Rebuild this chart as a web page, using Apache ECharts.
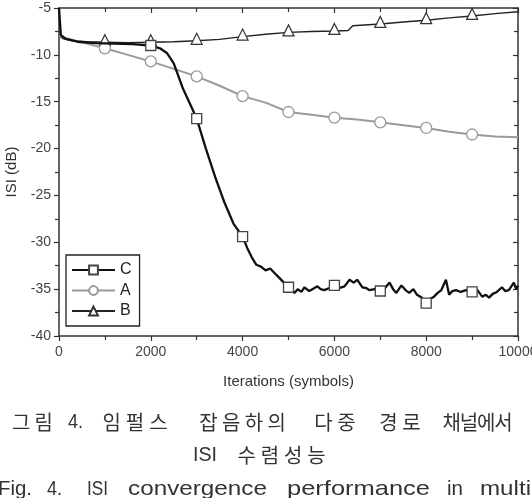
<!DOCTYPE html>
<html>
<head>
<meta charset="utf-8">
<script src="https://cdn.jsdelivr.net/npm/echarts@6/dist/echarts.min.js"></script>
<style>
  html, body { margin: 0; padding: 0; background: #fff; }
  #chart { width: 532px; height: 498px; }
</style>
</head>
<body>
<div id="chart"></div>
<script>
// iterations (symbols) vs ISI (dB)
const cIter = [0, 40, 150, 400, 800, 1200, 1600, 2000, 2200, 2350, 2500, 2700, 2850, 3000, 3200, 3400, 3600, 3800, 4000,
  4100, 4200, 4300, 4400, 4500, 4600, 4700, 4800, 4900, 5000, 5130, 5200, 5280, 5350, 5450, 5520, 5630, 5700, 5780, 5880,
  6000, 6100, 6220, 6330, 6420, 6500, 6610, 6700, 6760, 6880, 7000, 7100, 7200, 7280, 7350, 7460, 7550, 7630, 7720, 7800,
  7900, 8000, 8100, 8170, 8250, 8330, 8430, 8500, 8570, 8650, 8750, 8870, 9000, 9100, 9220, 9300, 9370, 9450, 9540, 9650,
  9720, 9800, 9910, 9960, 10000]
const cIsi = [-5.0, -7.9, -8.3, -8.6, -8.75, -8.8, -8.85, -9.0, -9.3, -9.8, -10.9, -13.6, -15.2, -16.8, -20.0, -23.0, -25.7, -28.0, -29.4,
  -30.6, -31.6, -32.4, -32.6, -33.0, -32.8, -33.3, -33.8, -34.3, -34.8, -35.4, -35.0, -35.3, -34.8, -35.2, -35.0, -34.7, -35.0, -35.1, -34.9,
  -34.6, -34.9, -34.7, -34.0, -34.3, -34.0, -34.8, -34.9, -35.1, -35.0, -35.2, -34.9, -34.3, -35.0, -35.4, -34.6, -35.1, -35.4, -35.0, -35.6,
  -35.9, -36.5, -36.0, -35.8, -35.4, -35.1, -34.0, -35.6, -35.2, -35.1, -35.3, -35.1, -35.3, -35.0, -35.8, -35.6, -35.9, -35.5, -35.3, -34.8,
  -35.2, -35.1, -34.3, -35.0, -34.6]

const aIter = [0, 300, 600, 1000, 1500, 2000, 2500, 3000, 3500, 4000, 4500, 5000, 5500, 6000, 6500, 7000, 7500, 8000, 8500, 9000, 9500, 10000]
const aIsi = [-8.0, -8.4, -8.8, -9.3, -10.0, -10.7, -11.5, -12.3, -13.3, -14.4, -15.1, -16.1, -16.4, -16.7, -16.9, -17.2, -17.5, -17.8, -18.2, -18.5, -18.7, -18.8]

const bIter = [0, 100, 300, 600, 1000, 1500, 2000, 2500, 3000, 3500, 4000, 4500, 5000, 5500, 6000, 6300, 6400, 7000, 7500, 8000, 8500, 9000, 9500, 10000]
const bIsi = [-8.0, -8.3, -8.5, -8.6, -8.65, -8.7, -8.65, -8.6, -8.5, -8.35, -8.05, -7.8, -7.6, -7.5, -7.45, -7.4, -6.9, -6.7, -6.5, -6.3, -6.05, -5.85, -5.6, -5.4]

// markers every 1000 symbols
const markerFirst = { C: 2000, A: 1000, B: 1000 }
const markerLast = 9000

const captionKo1 = [['그림', 10, 55], ['4.', 68, 83], ['임펄스', 100, 170], ['잡음하의', 197, 288], ['다중', 312, 358], ['경로', 377, 423], ['채널에서', 443, 512]]
const captionKo2 = [['ISI', 193, 217], ['수렴성능', 235, 328]]
const captionEn = [['Fig.', -2, 32], ['4.', 47, 62], ['ISI', 87, 108], ['convergence', 128, 267], ['performance', 287, 430], ['in', 447, 463], ['multipath', 480, 578]]

function points(iters, vals, symbol, first) {
  return iters.map((x, i) => ({
    value: [x, vals[i]],
    symbol: x % 1000 === 0 && x >= first && x <= markerLast ? symbol : 'none',
  }))
}

const measure = document.createElement('canvas').getContext('2d')
const koFont = '"Noto Sans CJK KR", sans-serif'
const enFont = '"Liberation Sans", Arial, sans-serif'

function captionLine(words, y, koSize, enSize) {
  const out = []
  words.forEach(([w, x0, x1]) => {
    const cjk = /[\uac00-\ud7a3]/.test(w)
    if (cjk) {
      const step = (x1 - x0) / w.length
      ;[...w].forEach((ch, i) => {
        out.push({
          type: 'text', x: x0 + step * (i + 0.5), y,
          style: { text: ch, fontSize: koSize, fontFamily: koFont, fill: '#333', align: 'center', verticalAlign: 'middle', textAlign: 'center', textVerticalAlign: 'middle' },
        })
      })
    } else {
      measure.font = enSize + 'px ' + enFont
      const wd = measure.measureText(w).width
      out.push({
        type: 'text', x: x0, y, scaleX: (x1 - x0) / wd,
        style: { text: w, fontSize: enSize, fontFamily: enFont, fill: '#333', align: 'left', verticalAlign: 'middle', textAlign: 'left', textVerticalAlign: 'middle' },
      })
    }
  })
  return out
}

const axisColor = '#333'
const lbl = { fontSize: 14, color: '#444', fontFamily: enFont, formatter: (v) => String(v) }

const chart = echarts.init(document.getElementById('chart'))
chart.setOption({
  animation: false,
  grid: { left: 59, right: 14, top: 8, bottom: 162, containLabel: false, outerBoundsMode: 'none' },
  xAxis: [
    {
      type: 'value', min: 0, max: 10000, interval: 2000, position: 'bottom',
      name: 'Iterations (symbols)', nameLocation: 'middle', nameGap: 38,
      nameTextStyle: { fontSize: 15, color: '#333', fontFamily: enFont },
      axisLine: { onZero: false, lineStyle: { color: axisColor, width: 1.5 } },
      axisTick: { length: 5, lineStyle: { color: axisColor, width: 1.2 } },
      minorTick: { show: true, splitNumber: 2, length: 4, lineStyle: { color: axisColor, width: 1.2 } },
      axisLabel: { ...lbl, margin: 9 },
      splitLine: { show: false },
    },
    {
      type: 'value', min: 0, max: 10000, interval: 2000, position: 'top',
      axisLine: { onZero: false, lineStyle: { color: axisColor, width: 1.5 } },
      axisTick: { inside: true, length: 5, lineStyle: { color: axisColor, width: 1.2 } },
      minorTick: { show: true, splitNumber: 2, length: 4, lineStyle: { color: axisColor, width: 1.2 } },
      axisLabel: { show: false },
      splitLine: { show: false },
    },
  ],
  yAxis: [
    {
      type: 'value', min: -40, max: -5, interval: 5, position: 'left',
      name: 'ISI (dB)', nameLocation: 'middle', nameGap: 40, nameRotate: 90,
      nameTextStyle: { fontSize: 15, color: '#333', fontFamily: enFont },
      axisLine: { onZero: false, lineStyle: { color: axisColor, width: 1.5 } },
      axisTick: { length: 5, lineStyle: { color: axisColor, width: 1.2 } },
      minorTick: { show: true, splitNumber: 2, length: 4, lineStyle: { color: axisColor, width: 1.2 } },
      axisLabel: { ...lbl, margin: 8 },
      splitLine: { show: false },
    },
    {
      type: 'value', min: -40, max: -5, interval: 5, position: 'right',
      axisLine: { onZero: false, lineStyle: { color: axisColor, width: 1.5 } },
      axisTick: { inside: true, length: 5, lineStyle: { color: axisColor, width: 1.2 } },
      minorTick: { show: true, splitNumber: 2, length: 4, lineStyle: { color: axisColor, width: 1.2 } },
      axisLabel: { show: false },
      splitLine: { show: false },
    },
  ],
  legend: {
    data: ['C', 'A', 'B'], orient: 'vertical', left: 66, top: 255,
    itemWidth: 43, itemHeight: 11, itemGap: 4.5, padding: [7, 8, 7, 5],
    borderColor: '#222', borderWidth: 1.3, borderRadius: 0,
    textStyle: { fontSize: 16, color: '#222', fontFamily: enFont },
  },
  series: [
    {
      name: 'B', type: 'line', data: points(bIter, bIsi, 'triangle', markerFirst.B),
      symbol: 'triangle', symbolSize: 11, symbolOffset: [0, -2], showAllSymbol: true, z: 2,
      lineStyle: { color: '#222', width: 1.4 },
      itemStyle: { color: '#fff', borderColor: '#333', borderWidth: 1.2 },
    },
    {
      name: 'A', type: 'line', data: points(aIter, aIsi, 'circle', markerFirst.A),
      symbol: 'circle', symbolSize: 11, showAllSymbol: true, z: 3,
      lineStyle: { color: '#9a9a9a', width: 2 },
      itemStyle: { color: '#fff', borderColor: '#999', borderWidth: 1.3 },
    },
    {
      name: 'C', type: 'line', data: points(cIter, cIsi, 'rect', markerFirst.C),
      symbol: 'rect', symbolSize: 10, showAllSymbol: true, z: 4,
      lineStyle: { color: '#111', width: 2.3 },
      itemStyle: { color: '#fff', borderColor: '#444', borderWidth: 1.3 },
    },
  ],
  graphic: [
    ...captionLine(captionKo1, 422, 20, 20),
    ...captionLine(captionKo2, 455, 20, 20),
    ...captionLine(captionEn, 489, 20, 21),
  ],
})
</script>
</body>
</html>
